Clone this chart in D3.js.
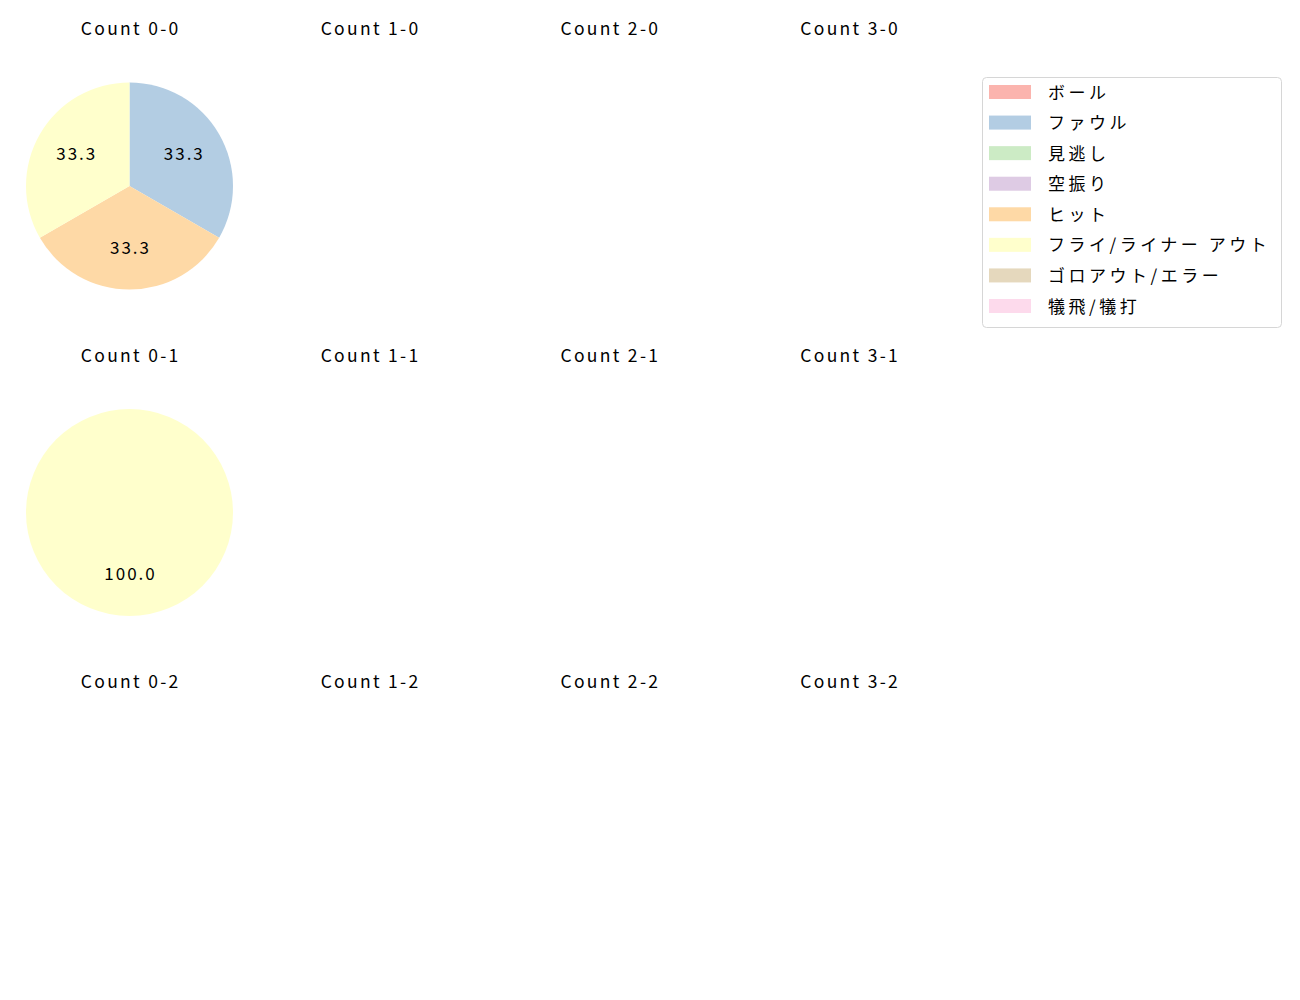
<!DOCTYPE html>
<html>
	<head>
		<meta charset="utf-8">
		<script src="https://d3js.org/d3.v7.min.js"></script>
		<style>
			body { margin: 0; background: #fff; }
			text { font-family: "Noto Sans CJK JP", "Noto Sans", sans-serif; fill: #000; }
			.title { font-size: 17.5px; letter-spacing: 2.3px; }
			.pct { font-size: 17px; letter-spacing: 2px; }
			.legend-text { font-size: 17px; letter-spacing: 3.5px; }
		</style>
	</head>
	<body>
		<div id="box"></div>
		<script>
			// 凡例のカテゴリ
			var labels = ['ボール', 'ファウル', '見逃し', '空振り', 'ヒット', 'フライ/ライナー アウト', 'ゴロアウト/エラー', '犠飛/犠打'];
			var colors = ['#fbb4ae', '#b3cde3', '#ccebc5', '#decbe4', '#fed9a6', '#ffffcc', '#e5d8bd', '#fddaec'];

			// カウント（列: ボール数, 行: ストライク数）
			var balls = [0, 1, 2, 3];
			var strikes = [0, 1, 2];

			// 各カウントの件数（labels の順）
			var count00 = [0, 1, 0, 0, 1, 1, 0, 0];
			var count01 = [0, 0, 0, 0, 0, 1, 0, 0];
			var countData = { '0-0': count00, '0-1': count01 };

			var svg = d3.select('#box').append('svg')
				.attr('width', 1300).attr('height', 1000)
				.style('display', 'block');

			var colX = d3.scalePoint().domain(balls).range([129.5, 849]);
			var rowY = d3.scalePoint().domain(strikes).range([186, 839]);
			var radius = 103.5;

			var pie = d3.pie().sort(null).value(d => d);
			var arc = d3.arc().innerRadius(0).outerRadius(radius);
			var labelArc = d3.arc().innerRadius(radius * 0.6).outerRadius(radius * 0.6);

			strikes.forEach(s => {
				balls.forEach(b => {
					var key = b + '-' + s;
					var g = svg.append('g')
						.attr('transform', `translate(${colX(b)},${rowY(s)})`);
					g.append('text')
						.attr('class', 'title')
						.attr('text-anchor', 'middle')
						.attr('x', 1.2)
						.attr('y', -151)
						.text('Count ' + key);

					var vals = countData[key];
					if (!vals) return;
					var total = d3.sum(vals);
					var arcs = pie(vals).filter(d => d.value > 0);
					g.selectAll('path').data(arcs).enter()
						.append('path')
						.attr('d', arc)
						.attr('fill', d => colors[d.index]);
					g.selectAll('.pct').data(arcs).enter()
						.append('text')
						.attr('class', 'pct')
						.attr('text-anchor', 'middle')
						.attr('dominant-baseline', 'central')
						.attr('transform', d => {
							var c = labelArc.centroid(d);
							return `translate(${c[0] + 1},${c[1] - 2})`;
						})
						.text(d => (d.value / total * 100).toFixed(1));
				});
			});

			// 凡例
			var legend = svg.append('g').attr('transform', 'translate(982,77)');
			legend.append('rect')
				.attr('x', 0.5).attr('y', 0.5)
				.attr('width', 299).attr('height', 250)
				.attr('rx', 4)
				.attr('fill', '#fff')
				.attr('stroke', '#d6d6d6');
			var ly = d3.scalePoint().domain(d3.range(labels.length)).range([15, 229]);
			var item = legend.selectAll('.item').data(labels).enter()
				.append('g')
				.attr('transform', (d, i) => `translate(0,${ly(i)})`);
			item.append('rect')
				.attr('x', 7).attr('y', -7)
				.attr('width', 42).attr('height', 14)
				.attr('fill', (d, i) => colors[i]);
			item.append('text')
				.attr('class', 'legend-text')
				.attr('x', 66)
				.attr('y', -1)
				.attr('dominant-baseline', 'central')
				.text(d => d);
		</script>
	</body>
</html>
